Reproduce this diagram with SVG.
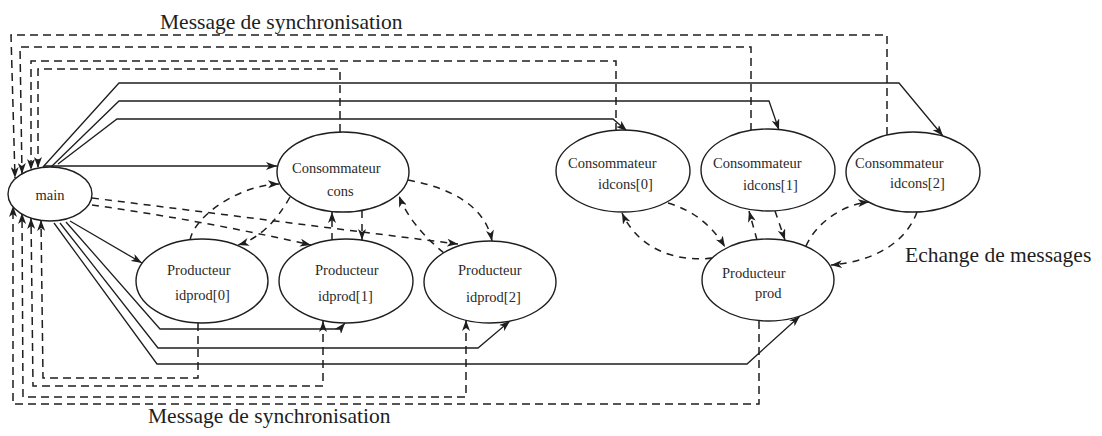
<svg xmlns="http://www.w3.org/2000/svg" width="1102" height="436" viewBox="0 0 1102 436">
  <defs>
    <marker id="ah" viewBox="0 0 11 8" refX="11" refY="4" markerWidth="11" markerHeight="8" markerUnits="userSpaceOnUse" orient="auto-start-reverse">
      <path d="M0,0 L11,4 L0,8 L3,4 z" fill="#1e1e1e"/>
    </marker>
    <style>
      .node ellipse { fill: #ffffff; stroke: #1e1e1e; stroke-width: 1.4; }
      .node text { font-family: "Liberation Serif", "Times New Roman", serif; font-size: 14.5px; fill: #2a2a2a; }
      .solid { fill: none; stroke: #1e1e1e; stroke-width: 1.3; }
      .sync { fill: none; stroke: #1e1e1e; stroke-width: 1.5; stroke-dasharray: 8 5; }
      .msg { fill: none; stroke: #1e1e1e; stroke-width: 1.5; stroke-dasharray: 7 6; }
      .arr { marker-end: url(#ah); }
      .label { font-family: "Liberation Serif", "Times New Roman", serif; font-size: 21.5px; fill: #1e1e1e; }
    </style>
  </defs>
  <rect width="1102" height="436" fill="#ffffff"/>

  <g id="connectors">
    <!-- creation links from main (solid) -->
    <path class="solid arr" d="M44,166 L277,166"/>
    <path class="solid arr" d="M43,167 L119,83 L899,83 L943,136"/>
    <path class="solid arr" d="M51,167 L119,101 L769,101 L779,130"/>
    <path class="solid arr" d="M58,164 L117,119 L613,119 L627,131"/>
    <path class="solid arr" d="M70,221 L142,263"/>
    <path class="solid arr" d="M66,222 L160,329 L340,329 L345,323"/>
    <path class="solid arr" d="M60,223 L158,348 L478,348 L510,321"/>
    <path class="solid arr" d="M54,223 L157,364 L747,364 L800,316"/>

    <!-- synchronisation messages back to main (top) -->
    <path class="sync arr" d="M887,135 V35 H11 L15,178"/>
    <path class="sync arr" d="M751,131 V47 H20 L22,174"/>
    <path class="sync arr" d="M616,131 V61 H31 L31,170"/>
    <path class="sync arr" d="M340,132 V69 H38 L38,168"/>

    <!-- synchronisation messages back to main (bottom) -->
    <path class="sync arr" d="M198,323 V378 H43 L41,220"/>
    <path class="sync arr" d="M323,321 V386 H33 L31,218" marker-start="url(#ah)"/>
    <path class="sync arr" d="M466,320 V397 H23 L22,213" marker-start="url(#ah)"/>
    <path class="sync arr" d="M759,321 V404 H13 L13,206"/>

    <!-- message exchange, left group -->
    <path class="msg arr" d="M92,198 L458,244"/>
    <path class="msg arr" d="M92,205 Q200,220 311,245"/>
    <path class="msg arr" d="M290,197 Q268,236 238,245"/>
    <path class="msg arr" d="M190,240 C195,215 240,185 279,184"/>
    <path class="msg arr" d="M332,240 V212"/>
    <path class="msg arr" d="M362,211 V240"/>
    <path class="msg arr" d="M408,180 C450,188 485,205 492,241"/>
    <path class="msg arr" d="M444,253 Q410,225 399,196"/>

    <!-- message exchange, right group -->
    <path class="msg arr" d="M668,203 Q705,214 725,247"/>
    <path class="msg arr" d="M712,258 C680,262 640,252 622,213"/>
    <path class="msg arr" d="M757,240 L749,211"/>
    <path class="msg arr" d="M775,211 L785,240"/>
    <path class="msg arr" d="M806,246 C815,225 840,205 869,202"/>
    <path class="msg arr" d="M917,212 C905,245 870,262 831,265"/>
  </g>

  <g id="main" class="node">
    <ellipse cx="50" cy="194" rx="42" ry="27"/>
    <text x="50" y="200" text-anchor="middle">main</text>
  </g>

  <g id="cons" class="node">
    <ellipse cx="343" cy="172" rx="66" ry="40"/>
    <text x="292" y="173">Consommateur</text>
    <text x="327" y="196">cons</text>
  </g>

  <g id="idprod0" class="node">
    <ellipse cx="202" cy="281" rx="66" ry="42"/>
    <text x="167" y="275">Producteur</text>
    <text x="175" y="300">idprod[0]</text>
  </g>

  <g id="idprod1" class="node">
    <ellipse cx="346" cy="281" rx="67" ry="42"/>
    <text x="315" y="275">Producteur</text>
    <text x="318" y="301">idprod[1]</text>
  </g>

  <g id="idprod2" class="node">
    <ellipse cx="490" cy="282" rx="66" ry="41"/>
    <text x="458" y="275">Producteur</text>
    <text x="466" y="302">idprod[2]</text>
  </g>

  <g id="idcons0" class="node">
    <ellipse cx="623" cy="171" rx="67" ry="41"/>
    <text x="568" y="168">Consommateur</text>
    <text x="598" y="189">idcons[0]</text>
  </g>

  <g id="idcons1" class="node">
    <ellipse cx="768" cy="170" rx="67" ry="41"/>
    <text x="713" y="168">Consommateur</text>
    <text x="743" y="190">idcons[1]</text>
  </g>

  <g id="idcons2" class="node">
    <ellipse cx="913" cy="172" rx="67" ry="40"/>
    <text x="855" y="168">Consommateur</text>
    <text x="890" y="188">idcons[2]</text>
  </g>

  <g id="prod" class="node">
    <ellipse cx="768" cy="280" rx="66" ry="41"/>
    <text x="722" y="278">Producteur</text>
    <text x="755" y="298">prod</text>
  </g>

  <text class="label" x="160" y="29">Message de synchronisation</text>
  <text class="label" x="148" y="423">Message de synchronisation</text>
  <text class="label" x="905" y="262">Echange de messages</text>
</svg>
